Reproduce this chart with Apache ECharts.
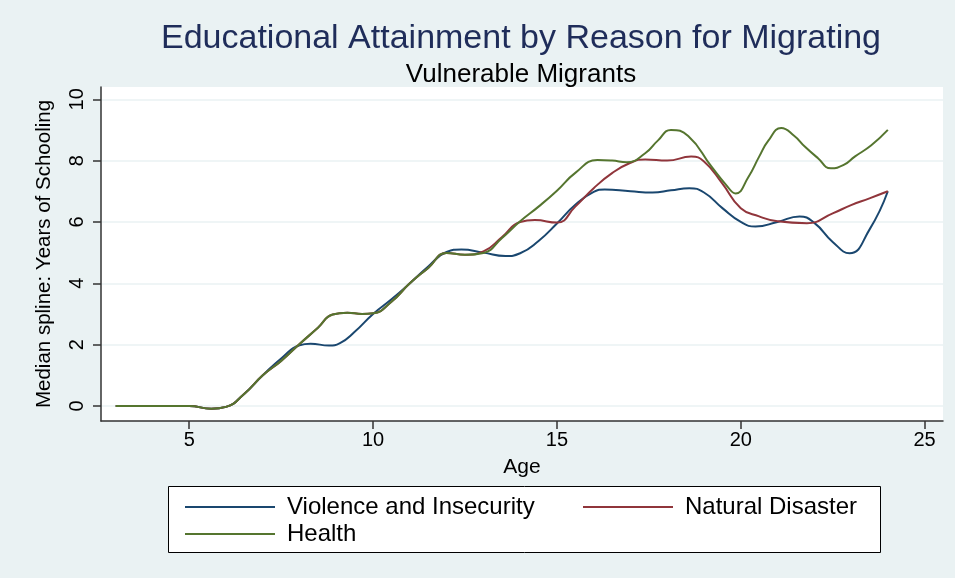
<!DOCTYPE html>
<html>
<head>
<meta charset="utf-8">
<script src="https://cdn.jsdelivr.net/npm/echarts@6/dist/echarts.min.js"></script>
<style>
html,body{margin:0;padding:0;background:#eaf2f3;}
#chart{width:955px;height:578px;}
</style>
</head>
<body>
<div id="chart"></div>
<script>
// Median-spline readings (age, years of schooling) for each reason
const agesViolence = [3,4,5,5.6,6,6.5,7,7.5,8,8.3,8.8,9.1,9.5,10,10.5,11,11.5,12,12.4,13,13.6,14,14.5,15,15.5,16,16.3,17,17.6,18.1,18.6,19,19.5,20,20.4,21,21.6,22,22.5,22.96,23.5,24];
const violence    = [0,0,0,-0.09,-0.03,0.4,1.0,1.55,1.98,2.03,1.97,2.05,2.42,3.0,3.48,4.0,4.55,5.02,5.1,5.0,4.89,4.98,5.38,5.95,6.56,6.98,7.06,7.0,6.96,7.03,7.1,6.96,6.45,6.0,5.85,6.0,6.18,5.97,5.35,4.98,5.75,7.0];

const agesDisaster = [3,4,5,5.6,6,6.5,7,7.5,8,8.5,8.9,9.3,9.7,10,10.5,11,11.5,12,12.5,13,13.5,14,14.4,15,15.5,16,16.5,17,17.4,18,18.65,19,19.5,20,20.5,21,21.8,22.5,23,23.5,24];
const disaster    = [0,0,0,-0.09,-0.03,0.4,1.0,1.47,2.02,2.55,2.98,3.04,3.0,3.02,3.4,4.0,4.5,4.99,4.93,5.04,5.5,6.0,6.06,5.98,6.5,7.1,7.59,7.93,8.04,8.0,8.13,7.97,7.25,6.45,6.18,6.02,5.96,6.28,6.55,6.77,7.0];

const agesHealth = [3,4,5,5.6,6,6.5,7,7.5,8,8.5,8.9,9.3,9.7,10,10.5,11,11.5,12,12.5,13,13.5,14,14.5,15,15.5,16.1,16.5,16.9,17.4,17.75,18.1,18.57,19.2,19.6,19.86,20.2,20.5,20.75,21.1,21.45,21.74,22.1,22.45,22.8,23.1,23.55,24];
const health    = [0,0,0,-0.09,-0.03,0.4,1.0,1.47,2.02,2.55,2.98,3.04,3.0,3.02,3.4,4.0,4.5,4.99,4.93,4.99,5.47,6.02,6.5,7.02,7.6,8.02,8.0,7.95,8.24,8.66,9.0,8.8,7.81,7.21,6.93,7.45,8.13,8.65,9.06,8.81,8.46,8.08,7.75,7.86,8.13,8.5,9.0];

const seriesNames = ['Violence and Insecurity','Natural Disaster','Health'];
const xTicks = [5,10,15,20,25];
const yTicks = [0,2,4,6,8,10];

const colors = ['#1a476f','#90353b','#55752f'];
const font = 'Liberation Sans, Arial, sans-serif';
const pairs = (xs, ys) => xs.map((a,i)=>[a, ys[i]]);
const allData = [pairs(agesViolence, violence), pairs(agesDisaster, disaster), pairs(agesHealth, health)];

const chart = echarts.init(document.getElementById('chart'), null, {renderer:'canvas'});
const legendBase = (name, left, top) => ({
  data:[name], left:left, top:top, orient:'horizontal', z:5,
  icon:'rect', itemWidth:90, itemHeight:2, selectedMode:false,
  textStyle:{fontFamily:font, fontSize:24, color:'#000', padding:[0,0,0,7]}
});
chart.setOption({
  backgroundColor:'#eaf2f3',
  animation:false,
  title:[
    {text:'Educational Attainment by Reason for Migrating', left:516, textAlign:'center', top:17,
     textStyle:{fontFamily:font, fontSize:34, fontWeight:'normal', color:'#1f2d5a'}},
    {text:'Vulnerable Migrants', left:516, textAlign:'center', top:57,
     textStyle:{fontFamily:font, fontSize:26, fontWeight:'normal', color:'#000'}}
  ],
  grid:{left:101, right:12, top:87, bottom:157, show:true, backgroundColor:'#fff', borderWidth:0, containLabel:false},
  xAxis:{
    type:'value', min:2.6, max:25.5,
    name:'Age', nameLocation:'middle', nameGap:36,
    nameTextStyle:{fontFamily:font, fontSize:21, color:'#000'},
    axisLine:{show:true, onZero:false, lineStyle:{color:'#333', width:1.5}},
    axisTick:{show:true, length:8, customValues:xTicks, lineStyle:{color:'#333', width:1.5}},
    axisLabel:{customValues:xTicks, fontFamily:font, fontSize:20, color:'#000', margin:9},
    splitLine:{show:false}
  },
  yAxis:{
    type:'value', min:-0.49, max:10.4,
    name:'Median spline: Years of Schooling', nameLocation:'middle', nameGap:46, nameRotate:90,
    nameTextStyle:{fontFamily:font, fontSize:20.5, color:'#000'},
    axisLine:{show:true, onZero:false, lineStyle:{color:'#333', width:1.5}},
    axisTick:{show:true, length:8, customValues:yTicks, lineStyle:{color:'#333', width:1.5}},
    axisLabel:{customValues:yTicks, rotate:90, fontFamily:font, fontSize:20, color:'#000', margin:14},
    splitLine:{show:true, lineStyle:{color:'#eaf2f3', width:1.5}}
  },
  legend:[
    legendBase(seriesNames[0], 180, 490),
    legendBase(seriesNames[1], 578, 490),
    legendBase(seriesNames[2], 180, 517)
  ],
  graphic:[
    {type:'rect', z:1, silent:true, shape:{x:169, y:487, width:711, height:65},
     style:{fill:'#fff', stroke:null}},
    {type:'polygon', z:2, silent:true,
     shape:{points:[[168.5,486.5],[880.5,486.5],[880.5,552.5],[168.5,552.5]]},
     style:{fill:null, stroke:'#000', lineWidth:1}}
  ],
  series: seriesNames.map((n,i)=>({
    name:n, type:'line', data:allData[i], smooth:0.5, showSymbol:false, symbol:'none',
    lineStyle:{color:colors[i], width:2}, itemStyle:{color:colors[i]}
  }))
});
</script>
</body>
</html>
